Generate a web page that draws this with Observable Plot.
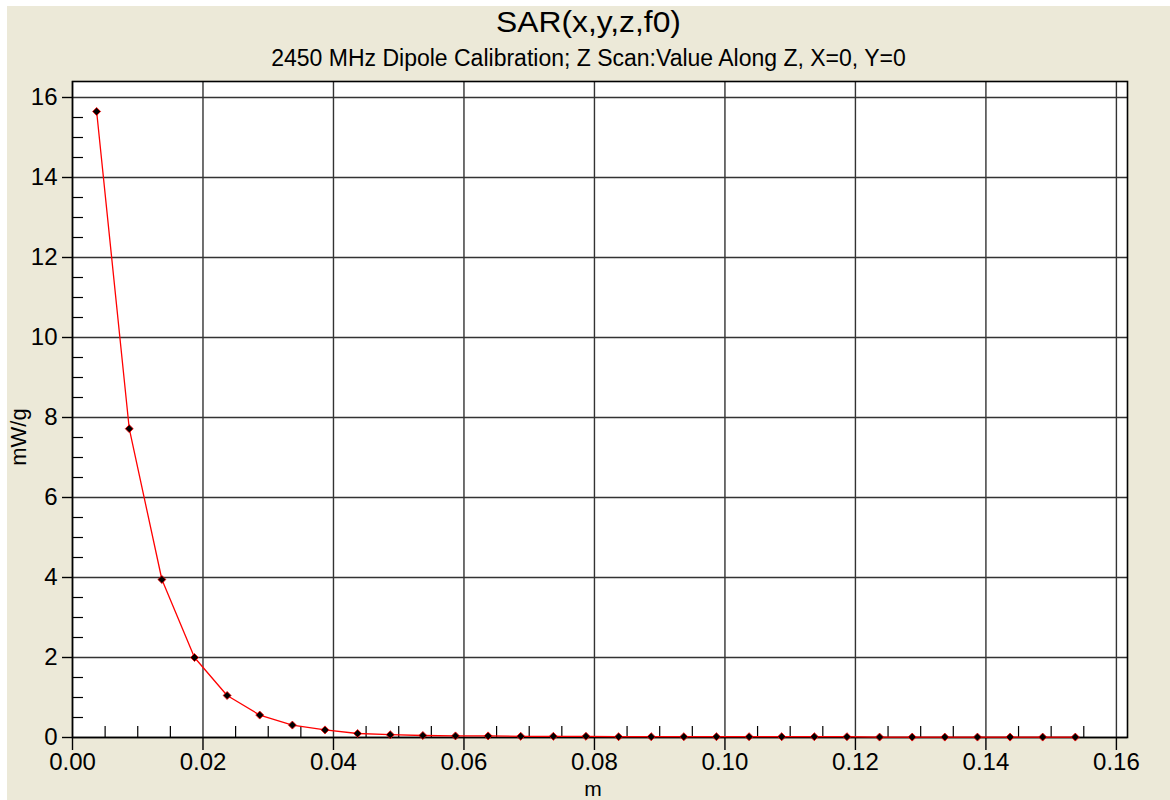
<!DOCTYPE html>
<html>
<head>
<meta charset="utf-8">
<script src="https://cdn.jsdelivr.net/npm/d3@7"></script>
<script src="https://cdn.jsdelivr.net/npm/@observablehq/plot@0.6"></script>
<style>
  html, body { margin: 0; padding: 0; background: #ffffff; }
  body { width: 1170px; height: 800px; position: relative; overflow: hidden; font-family: "Liberation Sans", Arial, sans-serif; }
  #panel { position: absolute; left: 7px; top: 6px; width: 1163px; height: 794px; background: #ECE9D8; }
  .t { position: absolute; white-space: nowrap; color: #000; line-height: 1; }
  #title { font-size: 30px; left: 0; width: 1163px; text-align: center; top: 1px; transform: scaleX(1.06); }
  #subtitle { font-size: 23px; left: 0; width: 1163px; text-align: center; top: 41px; }
  #ylabel { font-size: 22px; left: 12px; top: 431px; transform: translate(-50%, -50%) rotate(-90deg); }
  #xlabel { font-size: 21px; left: 586px; top: 772px; transform: translateX(-50%); }
  #chart { position: absolute; left: 0; top: 64px; }
</style>
</head>
<body>
<div id="panel">
  <div class="t" id="title">SAR(x,y,z,f0)</div>
  <div class="t" id="subtitle">2450 MHz Dipole Calibration; Z Scan:Value Along Z, X=0, Y=0</div>
  <div class="t" id="ylabel">mW/g</div>
  <div class="t" id="xlabel">m</div>
  <div id="chart"></div>
</div>
<script>
// Distance along Z (m)
const zPos = [0.0037, 0.0087, 0.0137, 0.0187, 0.0237, 0.0287, 0.0337, 0.0387, 0.0437, 0.0487,
  0.0537, 0.0587, 0.0637, 0.0687, 0.0737, 0.0787, 0.0837, 0.0887, 0.0937, 0.0987,
  0.1037, 0.1087, 0.1137, 0.1187, 0.1237, 0.1287, 0.1337, 0.1387, 0.1437, 0.1487, 0.1537];
// SAR value (mW/g)
const sarValue = [15.65, 7.72, 3.95, 2.0, 1.05, 0.56, 0.31, 0.19, 0.10, 0.07,
  0.05, 0.04, 0.04, 0.03, 0.03, 0.03, 0.02, 0.02, 0.02, 0.02,
  0.02, 0.02, 0.02, 0.02, 0.01, 0.01, 0.01, 0.01, 0.01, 0.01, 0.01];

const xMajor = [0, 0.02, 0.04, 0.06, 0.08, 0.10, 0.12, 0.14, 0.16];
const xMinor = [0.005, 0.01, 0.015, 0.025, 0.03, 0.035, 0.045, 0.05, 0.055, 0.065, 0.07, 0.075,
  0.085, 0.09, 0.095, 0.105, 0.11, 0.115, 0.125, 0.13, 0.135, 0.145, 0.15, 0.155];
const yMajor = [0, 2, 4, 6, 8, 10, 12, 14, 16];
const yMinor = [0.5, 1, 1.5, 2.5, 3, 3.5, 4.5, 5, 5.5, 6.5, 7, 7.5, 8.5, 9, 9.5, 10.5, 11, 11.5,
  12.5, 13, 13.5, 14.5, 15, 15.5];
const xDomain = [0, 0.1617];
const yDomain = [0, 16.4];

const data = zPos.map((z, i) => ({z, v: sarValue[i]}));

const chart = Plot.plot({
  width: 1163,
  height: 730,
  marginTop: 11,
  marginLeft: 65,
  marginRight: 43,
  marginBottom: 63,
  style: { fontFamily: "'Liberation Sans', Arial, sans-serif", background: "transparent", color: "#000" },
  x: { domain: xDomain, label: null },
  y: { domain: yDomain, label: null },
  marks: [
    Plot.frame({ fill: "white", stroke: null }),
    Plot.gridX(xMajor, { stroke: "#333", strokeOpacity: 1, strokeWidth: 1.4 }),
    Plot.gridY(yMajor, { stroke: "#333", strokeOpacity: 1, strokeWidth: 1.4 }),
    Plot.axisX(xMajor, { anchor: "bottom", tickSize: 13, tickPadding: 2, fontSize: 24, tickFormat: d3.format(".2f"), label: null, strokeWidth: 1.4 }),
    Plot.axisY(yMajor, { anchor: "left", tickSize: 10, tickPadding: 5, fontSize: 24, tickFormat: d3.format("d"), label: null, strokeWidth: 1.4 }),
    Plot.axisX(xMinor, { anchor: "top", frameAnchor: "bottom", tickSize: 12, tickFormat: () => "", label: null, strokeWidth: 1.2 }),
    Plot.axisY(yMinor, { anchor: "right", frameAnchor: "left", tickSize: 10, tickFormat: () => "", label: null, strokeWidth: 1.2 }),
    Plot.frame({ stroke: "#000", strokeWidth: 1.6 }),
    Plot.line(data, { x: "z", y: "v", stroke: "#ff0000", strokeWidth: 1.3 }),
    Plot.dot(data, { x: "z", y: "v", symbol: "diamond2", r: 3.6, fill: "#000", stroke: "#ff0000", strokeWidth: 0.8 })
  ]
});
document.getElementById("chart").appendChild(chart);
</script>
</body>
</html>
